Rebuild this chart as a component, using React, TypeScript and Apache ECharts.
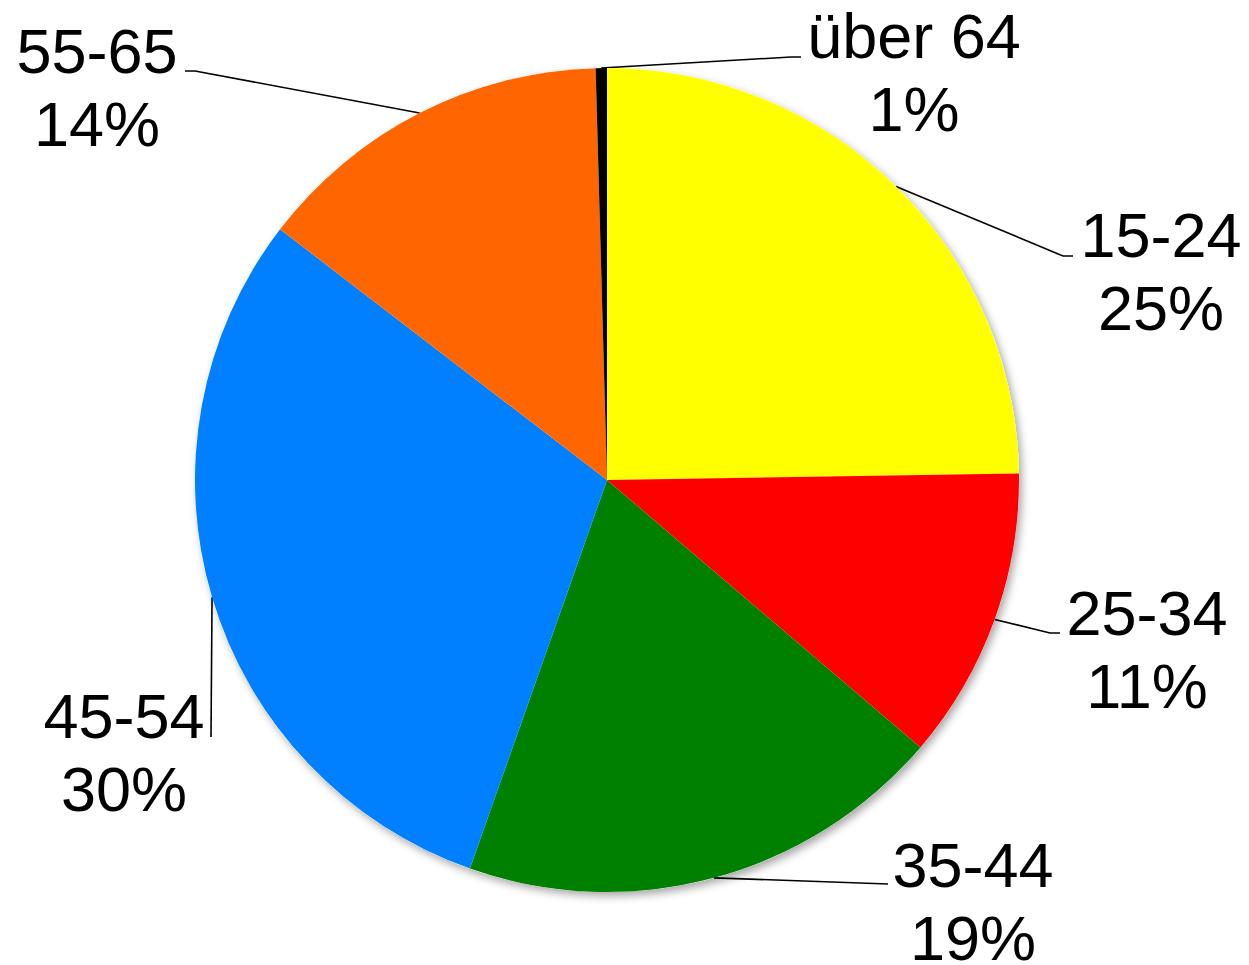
import React, { useEffect, useRef } from "react";
import * as echarts from "echarts";

// ---- data ----
const categories = ["15-24", "25-34", "35-44", "45-54", "55-65", "über 64"];
const values = [24.75, 11.49, 19.16, 30.01, 14.15, 0.44];
const percentLabels = [25, 11, 19, 30, 14, 1];

// ---- styles / layout ----
const colors = ["#FFFF00", "#FF0000", "#008000", "#0080FF", "#FF6600", "#000000"];
const CENTER = [607, 480];
const RADIUS = 412;
// centre of each two-line label block
const labelCenters = [
  [1161, 271],
  [1147, 649],
  [973, 901],
  [124, 752],
  [97, 87],
  [914, 72],
];
// where each leader line meets its label
const lineEnds = [
  [1073, 256],
  [1060, 633],
  [888, 884],
  [211, 737],
  [185, 71],
  [801, 57],
];
const tails = [10, 10, 0, 0, 10, 10];

export default function App() {
  const ref = useRef<HTMLDivElement>(null);
  useEffect(() => {
    document.body.style.margin = "0";
    if (!ref.current) return;
    const chart = echarts.init(ref.current, null, { renderer: "svg" });
    const total = values.reduce((a, b) => a + b, 0);
    const option = {
      animation: false,
      backgroundColor: "#ffffff",
      series: [
        {
          type: "pie",
          silent: true,
          z: 1,
          center: CENTER,
          radius: RADIUS,
          label: { show: false },
          labelLine: { show: false },
          data: [
            {
              value: total,
              itemStyle: {
                color: "#ffffff",
                shadowBlur: 8,
                shadowOffsetX: 3,
                shadowOffsetY: 4,
                shadowColor: "rgba(0,0,0,0.35)",
              },
            },
          ],
        },
        {
          type: "pie",
          z: 2,
          center: CENTER,
          radius: RADIUS,
          startAngle: 90,
          clockwise: true,
          avoidLabelOverlap: false,
          itemStyle: { borderWidth: 0 },
          label: {
            show: true,
            position: "outside",
            fontFamily: "'Liberation Sans', Arial, sans-serif",
            fontSize: 63,
            lineHeight: 73,
            color: "#000000",
            align: "center",
            formatter: (p: any) => `${p.name}\n${percentLabels[p.dataIndex]}%`,
          },
          labelLine: {
            show: true,
            lineStyle: { color: "#000000", width: 1.6 },
          },
          labelLayout: (params: any) => {
            const i = params.dataIndex;
            let start: number[];
            if (params.labelLinePoints && params.labelLinePoints[0]) {
              start = params.labelLinePoints[0];
            } else {
              let cum = 0;
              for (let k = 0; k < i; k++) cum += values[k];
              const th = ((cum + values[i] / 2) / total) * 2 * Math.PI;
              start = [CENTER[0] + RADIUS * Math.sin(th), CENTER[1] - RADIUS * Math.cos(th)];
            }
            const end = lineEnds[i];
            const dir = end[0] > CENTER[0] ? -1 : 1;
            const bend = [end[0] + dir * tails[i], end[1]];
            return {
              x: labelCenters[i][0],
              y: labelCenters[i][1],
              align: "center",
              verticalAlign: "middle",
              labelLinePoints: [start, bend, end],
            };
          },
          data: categories.map((c, i) => ({
            name: c,
            value: values[i],
            itemStyle: { color: colors[i] },
          })),
        },
      ],
    };
    chart.setOption(option as any);
    return () => chart.dispose();
  }, []);
  return <div ref={ref} style={{ width: 1249, height: 965 }} />;
}
